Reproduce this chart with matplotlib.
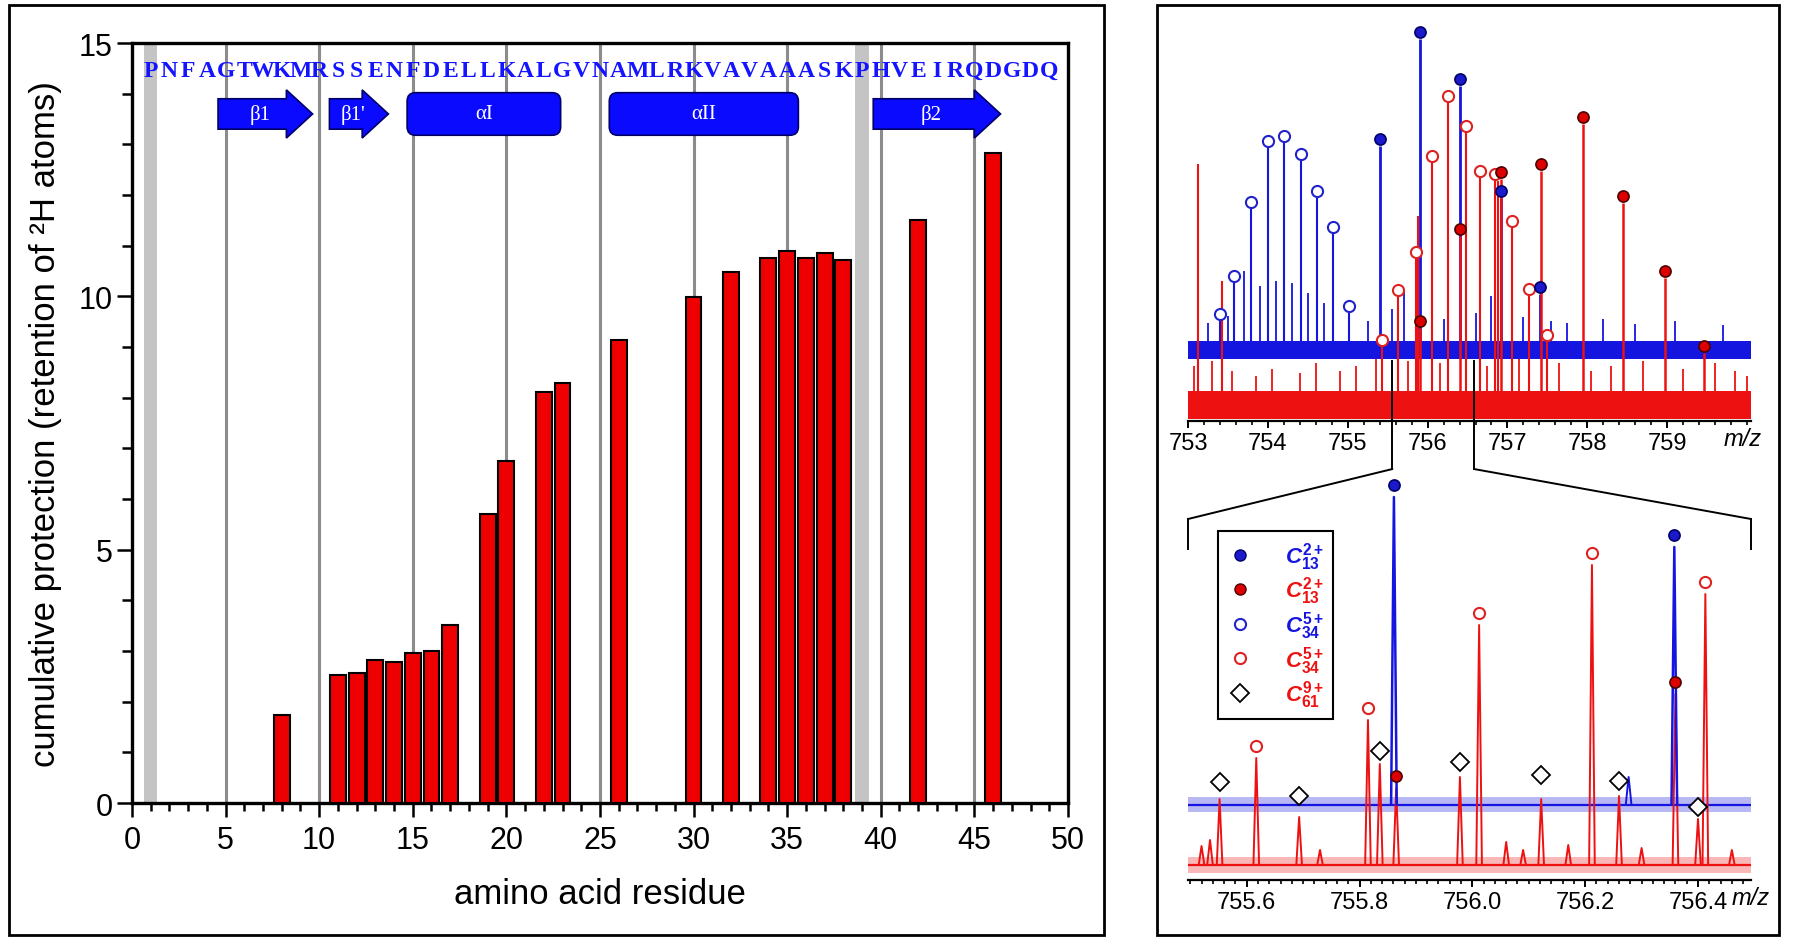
import numpy as np
import matplotlib.pyplot as plt
import matplotlib.ticker as mticker
from matplotlib.patches import Rectangle, FancyArrow, FancyBboxPatch, ConnectionPatch
from matplotlib.lines import Line2D

NARROW = ['Liberation Sans Narrow', 'Liberation Sans', 'DejaVu Sans']
plt.rcParams['font.family'] = NARROW
plt.rcParams['mathtext.fontset'] = 'custom'
plt.rcParams['mathtext.it'] = 'Liberation Sans:italic:bold'
plt.rcParams['mathtext.rm'] = 'Liberation Sans:bold'
plt.rcParams['mathtext.bf'] = 'Liberation Sans:bold'

# ---- left panel: cumulative protection per residue ----
sequence = "PNFAGTWKMRSSENFDELLKALGVNAMLRKVAVAAASKPHVEIRQDGDQ"
residues = [8, 11, 12, 13, 14, 15, 16, 17, 19, 20, 22, 23, 26, 30, 32,
            34, 35, 36, 37, 38, 42, 46]
protection = [1.74, 2.52, 2.56, 2.83, 2.79, 2.97, 3.01, 3.51, 5.71, 6.75,
              8.11, 8.29, 9.13, 9.99, 10.49, 10.76, 10.90, 10.76, 10.85,
              10.72, 11.51, 12.83]
prolines = [1, 39]
grid_residues = [5, 10, 15, 20, 25, 30, 35, 40, 45]
strand_names = ["β1", "β1'", "β2"]
strand_start = [4.6, 10.55, 39.6]
strand_end = [9.65, 13.7, 46.4]
helix_names = ["αI", "αII"]
helix_start = [14.7, 25.5]
helix_end = [22.9, 35.6]

# ---- right panel, top spectrum (m/z 753-760) ----
top_range = [753.0, 760.05]
top_ticks = [753, 754, 755, 756, 757, 758, 759]
top_blue_band = [62, 80]
top_red_band = [2, 30]
top_c13_blue_mz = [755.4, 755.9, 756.4, 756.92, 757.41]
top_c13_blue_h = [282, 389, 342, 230, 134]
top_c13_red_mz = [755.9, 756.4, 756.92, 757.42, 757.94, 758.45, 758.97, 759.46]
top_c13_red_h = [100, 192, 249, 257, 304, 225, 150, 75]
top_c34_blue_mz = [753.4, 753.58, 753.79, 754.0, 754.2, 754.41, 754.62, 754.82, 755.02]
top_c34_blue_h = [107, 145, 219, 280, 285, 267, 230, 194, 115]
top_c34_red_mz = [755.43, 755.63, 755.85, 756.05, 756.25, 756.48, 756.65,
                  756.85, 757.06, 757.27, 757.5]
top_c34_red_h = [81, 131, 169, 265, 325, 295, 250, 247, 200, 132, 86]
top_red_other_mz = [753.13, 753.42, 755.88, 756.88]
top_red_other_h = [257, 140, 205, 240]
top_blue_noise_mz = [753.25, 753.5, 753.7, 753.9, 754.1, 754.3, 754.5, 754.7,
                     755.25, 755.55, 755.7, 756.05, 756.2, 756.6, 756.8, 757.2,
                     757.55, 757.75, 758.2, 758.6, 759.1, 759.7]
top_blue_noise_h = [98, 105, 150, 135, 140, 138, 128, 118, 100, 112, 130, 110,
                    102, 108, 125, 104, 100, 98, 102, 97, 100, 96]
top_red_noise_mz = [753.08, 753.3, 753.55, 753.85, 754.05, 754.4, 754.6, 754.9,
                    755.1, 755.35, 755.75, 756.15, 756.75, 757.15, 757.65, 758.05,
                    758.3, 758.7, 759.2, 759.6, 759.85, 760.0]
top_red_noise_h = [55, 60, 50, 45, 52, 48, 58, 50, 55, 62, 60, 58, 55, 62, 58,
                   50, 55, 60, 52, 58, 50, 45]
zoom_top_mz = [755.56, 756.58]

# ---- right panel, bottom spectrum (zoom 755.5-756.5) ----
bot_range = [755.496, 756.494]
bot_blue_band = [68, 83]
bot_red_band = [7, 23]
bot_c13_blue_mz = [755.861, 756.358]
bot_c13_blue_h = [395, 345]
bot_c13_red_mz = [755.865, 756.36]
bot_c13_red_h = [104, 198]
bot_c34_red_mz = [755.617, 755.815, 756.012, 756.212, 756.413]
bot_c34_red_h = [134, 172, 267, 327, 298]
bot_c61_mz = [755.552, 755.693, 755.836, 755.978, 756.122, 756.26, 756.40]
bot_c61_h = [98, 84, 129, 118, 105, 99, 73]
bot_c61_peak_h = [81, 63, 116, 103, 81, 84, 61]
bot_blue_other_mz = [756.277]
bot_blue_other_h = [103]
bot_red_other_mz = [755.52, 755.535, 755.73, 756.06, 756.09, 756.17, 756.30, 756.46]
bot_red_other_h = [34, 40, 30, 38, 30, 35, 32, 30]

BLUE = '#1515e0'
RED = '#ee1111'
BLUE_FACE, BLUE_EDGE = '#1a1acc', '#000066'
RED_FACE, RED_EDGE = '#dd0000', '#4d0000'

fig = plt.figure(figsize=(18, 9.45), dpi=100)

# frames around the two panels
fig.add_artist(Rectangle((0.005, 0.0095), 0.6083, 0.9841, transform=fig.transFigure,
                         fill=False, lw=2, ec='black'))
fig.add_artist(Rectangle((0.6428, 0.0095), 0.3456, 0.9841, transform=fig.transFigure,
                         fill=False, lw=2, ec='black'))

# ================= left panel =================
ax = fig.add_axes([0.0733, 0.1492, 0.52, 0.8042])
for p in prolines:
    ax.axvspan(p - 0.35, p + 0.35, color='#c4c4c4', zorder=0.5, lw=0)
ax.vlines(grid_residues, 0, 15, color='#8c8c8c', lw=2.2, zorder=1)
ax.bar(residues, protection, width=0.85, color='#ee0000', edgecolor='black',
       linewidth=1.5, zorder=3)

for i, aa in enumerate(sequence, start=1):
    ax.text(i, 14.46, aa, ha='center', va='center', family='Liberation Serif',
            fontsize=17, fontweight='bold', color='#1414ff', zorder=4)

ss_y = 13.6
for name, s, e in zip(strand_names, strand_start, strand_end):
    ax.add_patch(FancyArrow(s, ss_y, e - s, 0, width=0.6, head_width=0.95,
                            head_length=1.4, length_includes_head=True,
                            fc='#0a0aff', ec='#000066', lw=1.2, zorder=4))
    ax.text((s + e) / 2 - 0.3, ss_y, name, ha='center', va='center', color='white',
            family='Liberation Serif', fontsize=15, zorder=5)
for name, s, e in zip(helix_names, helix_start, helix_end):
    ax.add_patch(FancyBboxPatch((s, ss_y - 0.42), e - s, 0.84,
                                boxstyle="round,pad=0,rounding_size=0.45",
                                mutation_aspect=0.37, fc='#0a0aff', ec='#000066',
                                lw=1.2, zorder=4))
    ax.text((s + e) / 2, ss_y, name, ha='center', va='center', color='white',
            family='Liberation Serif', fontsize=15, zorder=5)

ax.set_xlim(0, 50)
ax.set_ylim(0, 15)
ax.xaxis.set_major_locator(mticker.MultipleLocator(5))
ax.xaxis.set_minor_locator(mticker.MultipleLocator(1))
ax.yaxis.set_major_locator(mticker.MultipleLocator(5))
ax.yaxis.set_minor_locator(mticker.MultipleLocator(1))
for sp in ax.spines.values():
    sp.set_linewidth(2.4)
ax.tick_params(axis='x', which='major', direction='out', length=10, width=1.8,
               labelsize=22, pad=6)
ax.tick_params(axis='x', which='minor', direction='out', length=6, width=1.8)
ax.tick_params(axis='y', which='major', direction='out', length=11, width=1.8,
               labelsize=22, pad=3)
ax.tick_params(axis='y', which='minor', direction='out', length=7, width=1.8)
ax.set_xlabel('amino acid residue', fontsize=25, family=['Liberation Sans'], labelpad=16)
ax.set_ylabel('cumulative protection (retention of ²H atoms)', fontsize=25,
              family=['Liberation Sans'], labelpad=12)


def style_spectrum(a, rng, minor):
    a.set_xlim(rng)
    for side in ['left', 'right', 'top']:
        a.spines[side].set_visible(False)
    a.spines['bottom'].set_linewidth(1.6)
    a.set_yticks([])
    a.xaxis.set_minor_locator(mticker.MultipleLocator(minor))
    a.tick_params(axis='x', which='major', length=5, width=1.4, labelsize=17, pad=3)
    a.tick_params(axis='x', which='minor', length=3, width=1.2)
    a.patch.set_alpha(0)


# ================= right top: full spectrum =================
at = fig.add_axes([0.66, 0.55344, 0.3128, 0.42857])
at.set_ylim(0, 405)
at.fill_between(top_range, *top_blue_band, color=BLUE, lw=0, zorder=1)
at.fill_between(top_range, *top_red_band, color=RED, lw=0, zorder=1)
blue_base = np.mean(top_blue_band)
red_base = np.mean(top_red_band)
at.vlines(top_blue_noise_mz, blue_base, top_blue_noise_h, color=BLUE, lw=1.3, zorder=2)
at.vlines(top_red_noise_mz, red_base, top_red_noise_h, color=RED, lw=1.3, zorder=2)
at.vlines(top_c34_blue_mz, blue_base, np.array(top_c34_blue_h) - 7, color=BLUE, lw=1.5, zorder=2)
at.vlines(top_c13_blue_mz, blue_base, np.array(top_c13_blue_h) - 7, color=BLUE, lw=2, zorder=2)
at.vlines(top_red_other_mz, red_base, top_red_other_h, color=RED, lw=1.5, zorder=2)
at.vlines(top_c34_red_mz, red_base, np.array(top_c34_red_h) - 7, color=RED, lw=1.5, zorder=2)
at.vlines(top_c13_red_mz, red_base, np.array(top_c13_red_h) - 7, color=RED, lw=1.8, zorder=2)
ms = 8
at.plot(top_c34_blue_mz, top_c34_blue_h, 'o', ms=ms, mfc='white', mec='#2222cc', mew=1.5, zorder=5)
at.plot(top_c34_red_mz, top_c34_red_h, 'o', ms=ms, mfc='white', mec='#dd2222', mew=1.5, zorder=5)
at.plot(top_c13_blue_mz, top_c13_blue_h, 'o', ms=ms, mfc=BLUE_FACE, mec=BLUE_EDGE, mew=1.2, zorder=6)
at.plot(top_c13_red_mz, top_c13_red_h, 'o', ms=ms, mfc=RED_FACE, mec=RED_EDGE, mew=1.2, zorder=6)
style_spectrum(at, top_range, 0.2)
at.set_xticks(top_ticks)
at.text(top_range[1] - 0.1, -18, 'm/z', ha='center', va='center', fontsize=17,
        style='italic', clip_on=False)

# ================= right bottom: zoom =================
ab = fig.add_axes([0.66, 0.06772, 0.3128, 0.43492])
ab.set_ylim(0, 411)
bb = np.mean(bot_blue_band)
rb = np.mean(bot_red_band)
ab.fill_between(bot_range, *bot_blue_band, color=BLUE, alpha=0.3, lw=0, zorder=1)
ab.fill_between(bot_range, *bot_red_band, color=RED, alpha=0.3, lw=0, zorder=1)
ab.plot(bot_range, [bb, bb], color=BLUE, lw=1.6, zorder=1)
ab.plot(bot_range, [rb, rb], color=RED, lw=1.6, zorder=1)
half = 0.005


def peaks(a, mz, h, base, color, lw=1.4):
    for m, top in zip(mz, h):
        a.plot([m - half, m, m + half], [base, top, base], color=color, lw=lw, zorder=2)


peaks(ab, bot_red_other_mz, bot_red_other_h, rb, RED)
peaks(ab, bot_c61_mz, bot_c61_peak_h, rb, RED)
peaks(ab, bot_c34_red_mz, np.array(bot_c34_red_h) - 12, rb, RED)
peaks(ab, bot_c13_red_mz, np.array(bot_c13_red_h) - 12, rb, RED)
peaks(ab, bot_blue_other_mz, bot_blue_other_h, bb, BLUE)
peaks(ab, bot_c13_blue_mz, np.array(bot_c13_blue_h) - 12, bb, BLUE, lw=1.8)
ab.plot(bot_c34_red_mz, bot_c34_red_h, 'o', ms=ms, mfc='white', mec='#dd2222', mew=1.5, zorder=5)
ab.plot(bot_c61_mz, bot_c61_h, 'D', ms=9, mfc='white', mec='black', mew=1.3, zorder=5)
ab.plot(bot_c13_blue_mz, bot_c13_blue_h, 'o', ms=ms, mfc=BLUE_FACE, mec=BLUE_EDGE, mew=1.2, zorder=6)
ab.plot(bot_c13_red_mz, bot_c13_red_h, 'o', ms=ms, mfc=RED_FACE, mec=RED_EDGE, mew=1.2, zorder=6)
style_spectrum(ab, bot_range, 0.02)
ab.xaxis.set_major_locator(mticker.MultipleLocator(0.2))
ab.xaxis.set_major_formatter(mticker.FormatStrFormatter('%.1f'))
ab.text(bot_range[1], -17, 'm/z', ha='center', va='center', fontsize=17,
        style='italic', clip_on=False)

handles = [
    Line2D([], [], ls='none', marker='o', ms=ms, mfc=BLUE_FACE, mec=BLUE_EDGE),
    Line2D([], [], ls='none', marker='o', ms=ms, mfc=RED_FACE, mec=RED_EDGE),
    Line2D([], [], ls='none', marker='o', ms=ms, mfc='white', mec='#2222cc', mew=1.5),
    Line2D([], [], ls='none', marker='o', ms=ms, mfc='white', mec='#dd2222', mew=1.5),
    Line2D([], [], ls='none', marker='D', ms=9, mfc='white', mec='black', mew=1.3),
]
labels = [r'$C_{13}^{2+}$', r'$C_{13}^{2+}$', r'$C_{34}^{5+}$', r'$C_{34}^{5+}$',
          r'$C_{61}^{9+}$']
label_colors = [BLUE, RED, BLUE, RED, RED]
leg = ab.legend(handles, labels, loc='upper left', bbox_to_anchor=(0.053, 0.849),
                fontsize=16, frameon=True, fancybox=False, framealpha=1,
                edgecolor='black', borderpad=0.4, labelspacing=0.12,
                handletextpad=1.4, handlelength=1.2, borderaxespad=0)
leg.get_frame().set_linewidth(1.5)
for t, c in zip(leg.get_texts(), label_colors):
    t.set_color(c)

# zoom connector lines
for mt, mb in zip(zoom_top_mz, bot_range):
    at.plot([mt, mt], [60, -48], color='black', lw=1.4, clip_on=False, zorder=7)
    ab.plot([mb, mb], [361, 331], color='black', lw=1.4, clip_on=False, zorder=7)
    fig.add_artist(ConnectionPatch(xyA=(mt, -48), coordsA=at.transData,
                                   xyB=(mb, 361), coordsB=ab.transData,
                                   color='black', lw=1.4))

fig.savefig('out.png', dpi=100)
